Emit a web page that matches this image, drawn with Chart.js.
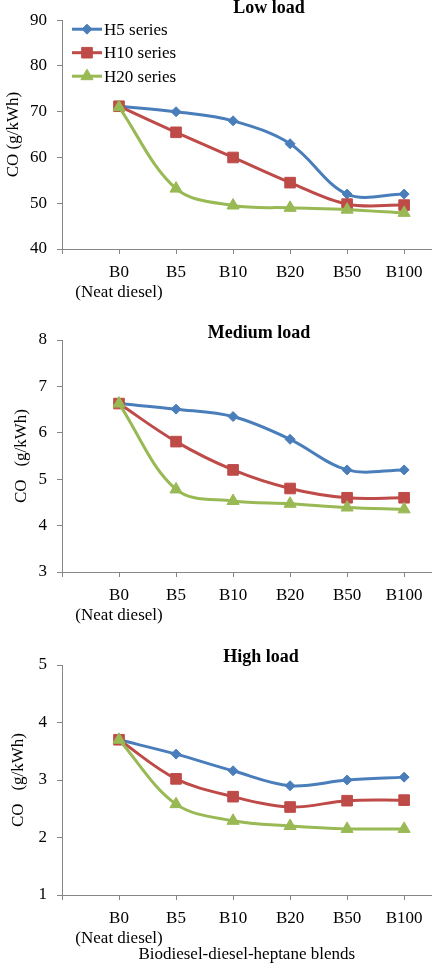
<!DOCTYPE html>
<html>
<head>
<meta charset="utf-8">
<script src="https://cdn.jsdelivr.net/npm/chart.js@4"></script>
<style>
  html, body { margin: 0; padding: 0; background: #fff; }
  .panel { position: absolute; left: 0; width: 440px; }
  canvas { display: block; }
</style>
</head>
<body>
<div class="panel" style="top:0"><canvas id="low-chart" width="440" height="305"></canvas></div>
<div class="panel" style="top:310px"><canvas id="medium-chart" width="440" height="318"></canvas></div>
<div class="panel" style="top:628px"><canvas id="high-chart" width="440" height="340"></canvas></div>
<script>
const blends = ['B0', 'B5', 'B10', 'B20', 'B50', 'B100'];
const seriesNames = ['H5 series', 'H10 series', 'H20 series'];

// CO (g/kWh), low load
const lowH5 = [71.2, 70, 68, 63, 52, 52];
const lowH10 = [71.2, 65.5, 60, 54.5, 49.8, 49.6];
const lowH20 = [71, 53.2, 49.5, 49, 48.6, 47.9];

// medium load
const mediumH5 = [6.63, 6.51, 6.35, 5.86, 5.2, 5.2];
const mediumH10 = [6.63, 5.81, 5.2, 4.8, 4.6, 4.6];
const mediumH20 = [6.63, 4.78, 4.53, 4.47, 4.39, 4.35];

// high load
const highH5 = [3.7, 3.45, 3.16, 2.9, 3.0, 3.05];
const highH10 = [3.7, 3.02, 2.71, 2.53, 2.64, 2.65];
const highH20 = [3.7, 2.58, 2.29, 2.2, 2.15, 2.15];

const lowTicks = [40, 90, 10];
const mediumTicks = [3, 8, 1];
const highTicks = [1, 5, 1];

const serif = "'Liberation Serif', 'Times New Roman', serif";
const colors = ['#4A7EBB', '#BE4B48', '#98B954'];
const markers = ['rectRot', 'rect', 'triangle'];
const radii = [5, 7.5, 7];
const axisGrey = '#868686';

const panelText = {
    id: 'panelText',
    afterDraw(chart, args, opts) {
        const ctx = chart.ctx;
        ctx.save();
        ctx.fillStyle = '#000';
        ctx.font = 'bold 18px ' + serif;
        ctx.textAlign = 'center';
        ctx.textBaseline = 'alphabetic';
        ctx.fillText(opts.title, opts.titleX, opts.titleY);

        if (opts.legend) {
            const area = chart.chartArea;
            chart.data.datasets.forEach((ds, i) => {
                const y = area.top + 9 + i * 23.5;
                ctx.strokeStyle = ds.borderColor;
                ctx.lineWidth = 3;
                ctx.beginPath();
                ctx.moveTo(area.left + 10, y);
                ctx.lineTo(area.left + 40, y);
                ctx.stroke();
                ctx.fillStyle = ds.pointBackgroundColor;
                ctx.lineWidth = 1;
                Chart.helpers.drawPoint(ctx, {
                    pointStyle: ds.pointStyle, radius: ds.pointRadius, borderWidth: 1, rotation: 0
                }, area.left + 25, y);
                ctx.fillStyle = '#000';
                ctx.font = '17px ' + serif;
                ctx.textAlign = 'left';
                ctx.textBaseline = 'middle';
                ctx.fillText(ds.label, area.left + 42, y + 1);
            });
        }
        ctx.restore();
    }
};

function makeSeries(values, i) {
    return {
        label: seriesNames[i],
        data: values.map((v, k) => ({ x: k + 1, y: v })),
        borderColor: colors[i],
        backgroundColor: colors[i],
        pointBackgroundColor: colors[i],
        pointBorderColor: colors[i],
        pointBorderWidth: 1,
        pointStyle: markers[i],
        pointRadius: radii[i],
        borderWidth: 3,
        tension: 0.35,
        order: 3 - i
    };
}

function makeChart(id, series, ticks, o) {
    new Chart(document.getElementById(id), {
        type: 'line',
        data: { datasets: series.map(makeSeries) },
        plugins: [panelText],
        options: {
            responsive: false,
            animation: false,
            layout: { padding: { top: o.top, left: 0, right: 1, bottom: 0 } },
            plugins: {
                legend: { display: false },
                tooltip: { enabled: false },
                panelText: { title: o.title, titleX: o.titleX, titleY: o.titleY, legend: o.legend }
            },
            scales: {
                x: {
                    type: 'linear',
                    min: 0,
                    max: 6.48,
                    afterBuildTicks: (scale) => {
                        scale.ticks = [0, 1, 2, 3, 4, 5, 6].map(v => ({ value: v }));
                    },
                    afterFit: (scale) => {
                        scale.height = o.xHeight;
                        scale.paddingLeft = 0;
                        scale.paddingRight = 0;
                    },
                    border: { color: axisGrey, width: 1 },
                    grid: { drawOnChartArea: false, drawTicks: true, tickLength: 5, color: axisGrey },
                    ticks: {
                        padding: 8,
                        color: '#000',
                        maxRotation: 0,
                        autoSkip: false,
                        font: { family: serif, size: 17 },
                        callback: (v) => {
                            if (v === 1) return [blends[0], '(Neat diesel)'];
                            return v >= 1 ? blends[v - 1] : '';
                        }
                    },
                    title: {
                        display: !!o.xTitle,
                        text: o.xTitle || '',
                        color: '#000',
                        font: { family: serif, size: 17 },
                        padding: { top: 0, bottom: 3 }
                    }
                },
                y: {
                    min: ticks[0],
                    max: ticks[1],
                    afterFit: (scale) => { scale.width = 62; },
                    border: { color: axisGrey, width: 1 },
                    grid: { drawOnChartArea: false, drawTicks: true, tickLength: 5, color: axisGrey },
                    ticks: {
                        stepSize: ticks[2],
                        padding: 10,
                        color: '#000',
                        font: { family: serif, size: 17 }
                    },
                    title: {
                        display: true,
                        text: o.yTitle,
                        color: '#000',
                        font: { family: serif, size: 17 },
                        padding: { top: o.yTitlePad, bottom: 0 }
                    }
                }
            }
        }
    });
}

makeChart('low-chart', [lowH5, lowH10, lowH20], lowTicks, {
    top: 17, xHeight: 56, title: 'Low load', titleX: 269, titleY: 12.5, legend: true,
    yTitle: 'CO (g/kWh)', yTitlePad: 3
});
makeChart('medium-chart', [mediumH5, mediumH10, mediumH20], mediumTicks, {
    top: 30, xHeight: 56, title: 'Medium load', titleX: 259, titleY: 28, legend: false,
    yTitle: 'CO   (g/kWh)', yTitlePad: 11
});
makeChart('high-chart', [highH5, highH10, highH20], highTicks, {
    top: 37, xHeight: 73, title: 'High load', titleX: 261, titleY: 34, legend: false,
    yTitle: 'CO   (g/kWh)', yTitlePad: 8, xTitle: 'Biodiesel-diesel-heptane blends'
});
</script>
</body>
</html>
